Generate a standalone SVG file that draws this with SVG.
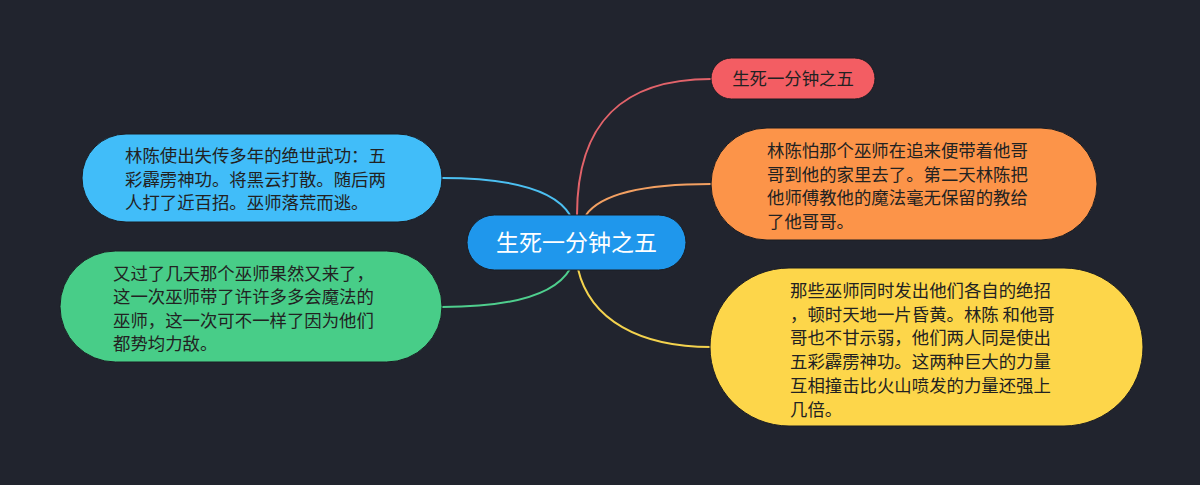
<svg xmlns="http://www.w3.org/2000/svg" width="1200" height="485" viewBox="0 0 1200 485">
<style>
.t{font-family:"Noto Sans CJK SC","Liberation Sans",sans-serif;font-size:17.4px;fill:#222222}
.c{font-family:"Noto Sans CJK SC","Liberation Sans",sans-serif;font-size:23px;fill:#ffffff}
.l{fill:none;stroke-width:2}
.n{stroke:#1a1c22;stroke-width:1}
</style>
<rect width="1200" height="485" fill="#21242e"/>
<g id="connectors">
<path class="l" stroke="#e2636a" d="M577,215 C577,120 625,79 711,79"/>
<path class="l" stroke="#f3a062" d="M586,215 C600,195 640,184 711,184"/>
<path class="l" stroke="#4cc0f2" d="M570,215 C555,190 510,178 442,178"/>
<path class="l" stroke="#4fcf8e" d="M570,269 C555,295 510,307 442,307"/>
<path class="l" stroke="#f4d34e" d="M578,269 C590,320 640,347 711,347"/>
</g>
<g id="center">
<rect class="n" x="467" y="215" width="219" height="55" rx="27.5" fill="#1f97ec"/>
<text class="c" x="576.5" y="251" text-anchor="middle">生死一分钟之五</text>
</g>
<g id="n1">
<rect class="n" x="711" y="58" width="164" height="41" rx="20.5" fill="#f35d63"/>
<text class="t" x="793" y="85" text-anchor="middle">生死一分钟之五</text>
</g>
<g id="n2">
<rect class="n" x="711" y="128" width="386" height="112" rx="56" fill="#fc9449"/>
<text class="t" x="767" y="157">林陈怕那个巫师在追来便带着他哥</text>
<text class="t" x="767" y="180.5">哥到他的家里去了。第二天林陈把</text>
<text class="t" x="767" y="204">他师傅教他的魔法毫无保留的教给</text>
<text class="t" x="767" y="227.5">了他哥哥。</text>
</g>
<g id="n3">
<rect class="n" x="710" y="268" width="433" height="158" rx="79" fill="#fdd64a"/>
<text class="t" x="790" y="297">那些巫师同时发出他们各自的绝招</text>
<text class="t" x="790" y="320.7">，顿时天地一片昏黄。林陈 和他哥</text>
<text class="t" x="790" y="344.4">哥也不甘示弱，他们两人同是使出</text>
<text class="t" x="790" y="368.1">五彩霹雳神功。这两种巨大的力量</text>
<text class="t" x="790" y="391.8">互相撞击比火山喷发的力量还强上</text>
<text class="t" x="790" y="415.5">几倍。</text>
</g>
<g id="n4">
<rect class="n" x="82" y="134" width="360" height="88" rx="44" fill="#41bdf9"/>
<text class="t" x="125" y="162">林陈使出失传多年的绝世武功：五</text>
<text class="t" x="125" y="185.5">彩霹雳神功。将黑云打散。随后两</text>
<text class="t" x="125" y="209">人打了近百招。巫师落荒而逃。</text>
</g>
<g id="n5">
<rect class="n" x="60" y="251" width="382" height="111" rx="55.5" fill="#48cd88"/>
<text class="t" x="113" y="280">又过了几天那个巫师果然又来了，</text>
<text class="t" x="113" y="303.3">这一次巫师带了许许多多会魔法的</text>
<text class="t" x="113" y="326.7">巫师，这一次可不一样了因为他们</text>
<text class="t" x="113" y="350">都势均力敌。</text>
</g>
</svg>
